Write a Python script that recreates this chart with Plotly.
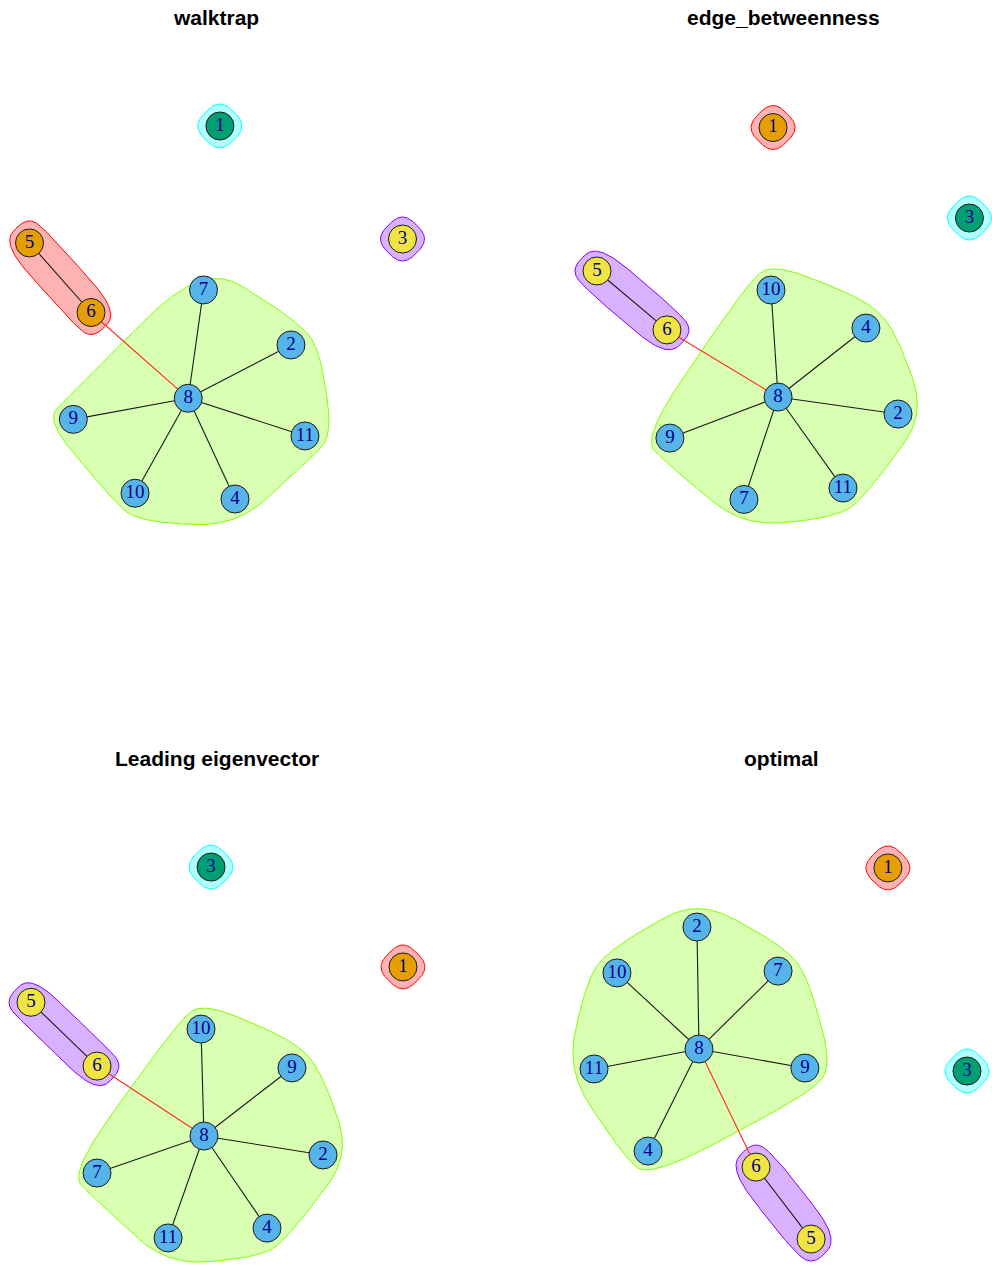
import numpy as np
import plotly.graph_objects as go

# ---- data -----------------------------------------------------------------
W, H = 992, 1268

titles = ["walktrap", "edge_betweenness", "Leading eigenvector", "optimal"]

node_ids = [1, 2, 3, 4, 5, 6, 7, 8, 9, 10, 11]
edges = [(8, 2), (8, 4), (8, 7), (8, 9), (8, 10), (8, 11), (8, 6), (5, 6)]

# layouts rescaled to [-1, 1] (node order 1..11)
walktrap_x = [0.021, 0.402, 1.0, 0.102, -1.0, -0.670, -0.067, -0.149, -0.765, -0.434, 0.477]
walktrap_y = [1.0, -0.174, 0.394, -1.0, 0.373, 0.0, 0.121, -0.460, -0.573, -0.969, -0.662]

ebetween_x = [-0.056, 0.614, 0.997, 0.442, -1.0, -0.625, -0.212, -0.029, -0.609, -0.067, 0.319]
ebetween_y = [0.997, -0.539, 0.512, -0.078, 0.228, -0.088, -0.997, -0.448, -0.668, 0.126, -0.936]

leading_x = [1.0, 0.570, -0.032, 0.269, -1.0, -0.645, -0.645, -0.070, 0.403, -0.086, -0.263]
leading_y = [0.46, -0.551, 0.997, -0.944, 0.27, -0.073, -0.648, -0.449, -0.083, 0.126, -0.997]

optimal_x = [0.576, -0.448, 1.0, -0.710, 0.164, -0.131, -0.013, -0.437, 0.131, -0.877, -1.0]
optimal_y = [0.995, 0.678, -0.094, -0.523, -0.995, -0.609, 0.442, 0.024, -0.078, 0.432, -0.083]

# community membership per node
walktrap_memb = [3, 2, 4, 2, 1, 1, 2, 2, 2, 2, 2]
ebetween_memb = [1, 2, 3, 2, 4, 4, 2, 2, 2, 2, 2]
leading_memb = [1, 2, 3, 2, 4, 4, 2, 2, 2, 2, 2]
optimal_memb = [1, 2, 3, 2, 4, 4, 2, 2, 2, 2, 2]

# ---- styling ----------------------------------------------------------------
vertex_pal = ["#E69F00", "#56B4E9", "#009E73", "#F0E442"]
mark_fill = ["rgba(255,0,0,0.3)", "rgba(128,255,0,0.3)",
             "rgba(0,255,255,0.3)", "rgba(128,0,255,0.3)"]
mark_border = ["#FF0000", "#80FF00", "#00FFFF", "#8000FF"]

VSIZE = 15 / 200      # vertex radius in layout units
EXPAND = 15 / 200     # mark expansion
SHAPE = 0.5           # x-spline shape

# panel placement: pixel box and centre / scale of the [-1,1] layout
panels = [
    dict(box=(0, 496, 0, 634), c=(216.0, 312.5), s=186.5, tx=216, ty=17),
    dict(box=(496, 992, 0, 634), c=(783.5, 313.5), s=186.5, tx=783, ty=17),
    dict(box=(0, 496, 634, 1268), c=(217.0, 1052.5), s=186.0, tx=217, ty=758.5),
    dict(box=(496, 992, 634, 1268), c=(780.5, 1053.5), s=186.5, tx=781, ty=758.5),
]
layouts = [(walktrap_x, walktrap_y, walktrap_memb),
           (ebetween_x, ebetween_y, ebetween_memb),
           (leading_x, leading_y, leading_memb),
           (optimal_x, optimal_y, optimal_memb)]


# ---- geometry helpers -------------------------------------------------------
def convex_hull(pts):
    pts = sorted(set(map(tuple, np.round(pts, 9))))
    if len(pts) <= 2:
        return pts

    def cross(o, a, b):
        return (a[0] - o[0]) * (b[1] - o[1]) - (a[1] - o[1]) * (b[0] - o[0])

    lower, upper = [], []
    for p in pts:
        while len(lower) >= 2 and cross(lower[-2], lower[-1], p) <= 0:
            lower.pop()
        lower.append(p)
    for p in reversed(pts):
        while len(upper) >= 2 and cross(upper[-2], upper[-1], p) <= 0:
            upper.pop()
        upper.append(p)
    return lower[:-1] + upper[:-1]


def f_blend(num, den):
    p = 2 * den * den
    u = num / den
    return u ** 3 * (10 - p + (2 * p - 15) * u + (6 - p) * u * u)


def closed_xspline(ctrl, s=0.5, steps=40):
    ctrl = np.asarray(ctrl, float)
    n = len(ctrl)
    out = []
    for k in range(n):
        P = np.array([ctrl[(k - 1) % n], ctrl[k % n],
                      ctrl[(k + 1) % n], ctrl[(k + 2) % n]])
        for t in np.linspace(0, 1, steps, endpoint=False):
            a0 = f_blend(t - s, -1 - s) if t < s else 0.0
            a2 = f_blend(t + s, 1 + s)
            a1 = f_blend(t - 1 - s, -1 - s)
            a3 = f_blend(t - 1 + s, 1 + s) if t > 1 - s else 0.0
            w = np.array([a0, a1, a2, a3])
            out.append(w @ P / w.sum())
    out.append(out[0])
    return np.array(out)


def group_polygon(xs, ys):
    pts = np.column_stack([xs, ys])
    d = VSIZE + EXPAND
    pp = np.vstack([pts,
                    pts + [-d, 0], pts + [d, 0],
                    pts + [0, -d], pts + [0, d]])
    hull = convex_hull(pp)
    return closed_xspline(hull, SHAPE)


# ---- figure -----------------------------------------------------------------
fig = go.Figure()
layout_axes = {}
annotations = []

for i, (pan, (lx, ly, memb)) in enumerate(zip(panels, layouts)):
    ax = "" if i == 0 else str(i + 1)
    xref, yref = "x" + ax, "y" + ax
    lx = np.array(lx)
    ly = np.array(ly)
    memb = np.array(memb)
    pos = {nid: (lx[j], ly[j]) for j, nid in enumerate(node_ids)}

    # community marks
    for g in sorted(set(memb)):
        sel = memb == g
        poly = group_polygon(lx[sel], ly[sel])
        fig.add_trace(go.Scatter(
            x=poly[:, 0], y=poly[:, 1], mode="lines", fill="toself",
            fillcolor=mark_fill[g - 1],
            line=dict(color=mark_border[g - 1], width=1),
            hoverinfo="skip", showlegend=False, xaxis=xref, yaxis=yref))

    # edges (red when crossing communities)
    for a, b in edges:
        crossing = memb[node_ids.index(a)] != memb[node_ids.index(b)]
        fig.add_trace(go.Scatter(
            x=[pos[a][0], pos[b][0]], y=[pos[a][1], pos[b][1]], mode="lines",
            line=dict(color="#FF2A1A" if crossing else "#1a1a1a", width=1.1),
            hoverinfo="skip", showlegend=False, xaxis=xref, yaxis=yref))

    # vertices
    fig.add_trace(go.Scatter(
        x=lx, y=ly, mode="markers+text",
        text=[str(n) for n in node_ids], textposition="middle center",
        textfont=dict(family="Liberation Serif, Times New Roman, serif",
                      size=19, color="#00008B"),
        marker=dict(size=28, color=[vertex_pal[m - 1] for m in memb],
                    line=dict(color="#1a1a1a", width=1)),
        hoverinfo="skip", showlegend=False, xaxis=xref, yaxis=yref))

    x0, x1, y0, y1 = pan["box"]
    cx, cy = pan["c"]
    s = pan["s"]
    axis_common = dict(visible=False, showgrid=False, zeroline=False,
                       fixedrange=True, autorange=False)
    layout_axes["xaxis" + ax] = dict(
        domain=[x0 / W, x1 / W], range=[(x0 - cx) / s, (x1 - cx) / s],
        anchor=yref, **axis_common)
    layout_axes["yaxis" + ax] = dict(
        domain=[1 - y1 / H, 1 - y0 / H], range=[-(y1 - cy) / s, -(y0 - cy) / s],
        anchor=xref, **axis_common)

    annotations.append(dict(
        text="<b>%s</b>" % titles[i], xref="paper", yref="paper",
        x=pan["tx"] / W, y=1 - pan["ty"] / H, xanchor="center", yanchor="middle",
        showarrow=False,
        font=dict(family="Liberation Sans, Arial, sans-serif", size=21, color="#000000")))

fig.update_layout(
    width=W, height=H, margin=dict(l=0, r=0, t=0, b=0),
    paper_bgcolor="white", plot_bgcolor="white",
    annotations=annotations, showlegend=False, **layout_axes)

fig.write_html("out.html")
